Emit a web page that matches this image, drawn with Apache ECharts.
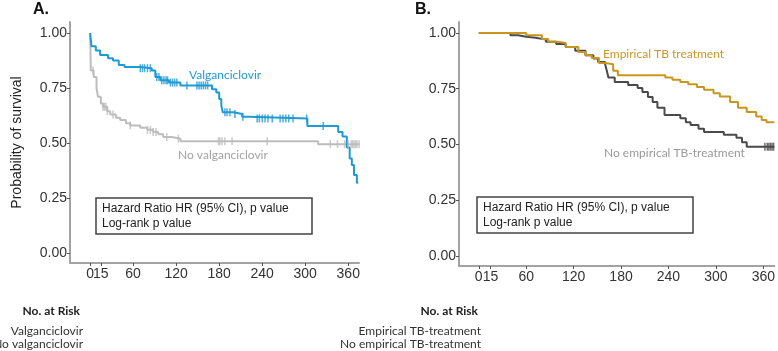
<!DOCTYPE html>
<html><head><meta charset="utf-8">
<script src="https://cdn.jsdelivr.net/npm/echarts@6/dist/echarts.min.js"></script>
<style>html,body{margin:0;padding:0;background:#fff}#c{width:778px;height:351px}</style>
</head><body><div id="c"></div>
<script>
// ---- data ----
const dayTicks = [0, 15, 60, 120, 180, 240, 300, 360];
const survTicks = [0, 0.25, 0.5, 0.75, 1];

// Panel A: Kaplan-Meier steps [day, survival]
const valgan = [[0,1],[2,0.94],[8,0.92],[14,0.90],[25,0.885],[32,0.875],[40,0.855],[48,0.845],[70,0.84],[86,0.83],[91,0.80],[98,0.785],[110,0.775],[126,0.762],[170,0.745],[176,0.73],[180,0.70],[183,0.67],[185,0.64],[200,0.632],[212,0.62],[222,0.612],[303,0.578],[346,0.55],[352,0.53],[358,0.48],[362,0.43],[365,0.40],[368,0.355],[372,0.32],[374,0.32]];
const noValgan = [[0,1],[0.5,0.936],[1,0.83],[5,0.80],[9,0.75],[11,0.71],[15,0.68],[18,0.665],[24,0.645],[28,0.63],[36,0.615],[42,0.605],[50,0.59],[56,0.58],[70,0.57],[80,0.56],[88,0.55],[95,0.54],[102,0.527],[114,0.52],[126,0.508],[318,0.495],[376,0.495]];
const valganCensor = [70,73,76,80,84,93,96,100,103,106,108,112,115,118,121,135,149,152,155,158,161,164,188,191,195,202,213,233,236,240,244,248,254,265,269,273,277,283,302,325];
const noValganCensor = [4,18,20,22,24,32,56,80,84,88,92,107,123,179,181,184,188,198,247,335,345,355,360,364,366,368,370,372,375];

// Panel B
const empTB = [[0,1],[60,0.99],[80,0.973],[88,0.96],[100,0.955],[110,0.937],[126,0.915],[135,0.90],[143,0.888],[152,0.865],[160,0.86],[170,0.83],[176,0.81],[236,0.80],[245,0.79],[255,0.78],[265,0.77],[276,0.758],[285,0.745],[297,0.73],[305,0.715],[318,0.69],[328,0.665],[339,0.646],[351,0.625],[358,0.61],[364,0.60],[374,0.60]];
const noEmpTB = [[0,1],[40,0.99],[50,0.983],[60,0.978],[72,0.97],[85,0.96],[98,0.95],[110,0.937],[122,0.92],[135,0.90],[145,0.885],[151,0.87],[160,0.857],[162,0.83],[164,0.80],[172,0.78],[189,0.767],[201,0.753],[207,0.735],[214,0.713],[220,0.69],[226,0.664],[235,0.632],[255,0.618],[262,0.60],[268,0.587],[278,0.57],[285,0.556],[310,0.543],[326,0.53],[333,0.51],[339,0.49],[374,0.49]];
const noEmpTBCensor = [362,365,367,369,371,373];

// ---- helpers ----
function survAt(curve, t){ let s = curve[0][1]; for (const p of curve){ if (p[0] <= t) s = p[1]; } return s; }
function censorPts(curve, days){ return days.map(d => [d, survAt(curve, d)]); }

const BLUE = '#1e9ad6', LGRAY = '#bdbdbd', GOLD = '#c8961e', DGRAY = '#4a4a4a';
const FONT = 'Liberation Sans, Arial, sans-serif';

function xAx(idx, min, max, ticks, lineShow){
  return { type:'value', gridIndex:idx, min:min, max:max, position:'bottom', offset:0,
    axisLine:{show:lineShow, onZero:false, lineStyle:{color:'#a3a3a3', width:2}},
    axisTick:{show:true, length:3, customValues:ticks, lineStyle:{color:'#555'}},
    axisLabel:{customValues:ticks, hideOverlap:false, color:'#333', fontSize:14, fontFamily:FONT, margin:4},
    splitLine:{show:false} };
}
function yAx(idx, min, max, name){
  return { type:'value', gridIndex:idx, min:min, max:max,
    name:name||'', nameLocation:'middle', nameRotate:90, nameGap:46,
    nameTextStyle:{fontSize:14, color:'#222', fontFamily:FONT},
    axisLine:{show:true, onZero:false, lineStyle:{color:'#a3a3a3', width:2}},
    axisTick:{show:true, length:3, customValues:survTicks, lineStyle:{color:'#555'}},
    axisLabel:{customValues:survTicks, color:'#333', fontSize:14, fontFamily:FONT, margin:3,
      formatter: v => v.toFixed(2)},
    splitLine:{show:false} };
}
function km(name, data, color, xi){
  return { name, type:'line', step:'end', data, xAxisIndex:xi, yAxisIndex:xi,
    showSymbol:false, lineStyle:{color, width:2}, itemStyle:{color}, animation:false, z:3 };
}
function cens(data, color, xi){
  return { type:'scatter', data, xAxisIndex:xi, yAxisIndex:xi, symbol:'rect', symbolSize:[1.5,8],
    itemStyle:{color}, animation:false, z:4 };
}
function gtext(x, y, s, opts){
  return { type:'text', x:x, y:y, z:20, style:Object.assign({text:s, fontSize:12, fontFamily:'Lato, sans-serif', fill:'#333', verticalAlign:'middle'}, opts||{}) };
}

const chart = echarts.init(document.getElementById('c'), null, {renderer:'canvas'});
chart.setOption({
  backgroundColor:'#fff',
  animation:false,
  grid:[
    {left:70, right:419, top:22, bottom:88},
    {left:459, right:0, top:22, bottom:85}
  ],
  xAxis:[
    xAx(0, -28, 375, dayTicks.filter(d => d !== 0), true),
    xAx(1, -25, 374, dayTicks, true),
    xAx(0, -28, 375, dayTicks.filter(d => d === 0), false)
  ],
  yAxis:[ yAx(0, -0.045, 1.05, 'Probability of survival'), yAx(1, -0.045, 1.049) ],
  series:[
    km('No valganciclovir', noValgan, LGRAY, 0),
    km('Valganciclovir', valgan, BLUE, 0),
    cens(censorPts(noValgan, noValganCensor), LGRAY, 0),
    cens(censorPts(valgan, valganCensor), BLUE, 0),
    km('No empirical TB-treatment', noEmpTB, DGRAY, 1),
    km('Empirical TB treatment', empTB, GOLD, 1),
    cens(censorPts(noEmpTB, noEmpTBCensor), DGRAY, 1)
  ],
  graphic:[
    gtext(33, 10, 'A.', {fontSize:16, fontWeight:'bold', fontFamily:FONT, fill:'#111'}),
    gtext(415, 10, 'B.', {fontSize:16, fontWeight:'bold', fontFamily:FONT, fill:'#111'}),
    {type:'rect', z:10, shape:{x:96, y:198, width:216, height:36}, style:{fill:'#fff', stroke:'#444', lineWidth:1.5}},
    gtext(102, 209, 'Hazard Ratio HR (95% CI), p value', {fontFamily:FONT, fill:'#222'}),
    gtext(102, 224, 'Log-rank p value', {fontFamily:FONT, fill:'#222'}),
    {type:'rect', z:10, shape:{x:477, y:197, width:216, height:36}, style:{fill:'#fff', stroke:'#444', lineWidth:1.5}},
    gtext(483, 208, 'Hazard Ratio HR (95% CI), p value', {fontFamily:FONT, fill:'#222'}),
    gtext(483, 223, 'Log-rank p value', {fontFamily:FONT, fill:'#222'}),
    gtext(189, 75, 'Valganciclovir', {fill:BLUE}),
    gtext(178, 155, 'No valganciclovir', {fill:'#a3a3a3'}),
    gtext(603, 54, 'Empirical TB treatment', {fill:'#c9962a'}),
    gtext(604, 153, 'No empirical TB-treatment', {fill:'#9a9a9a'}),
    gtext(80, 311, 'No. at Risk', {align:'right', fontWeight:'bold', fill:'#222'}),
    gtext(83, 331, 'Valganciclovir', {align:'right'}),
    gtext(83, 344, 'No valganciclovir', {align:'right'}),
    gtext(478, 311, 'No. at Risk', {align:'right', fontWeight:'bold', fill:'#222'}),
    gtext(481, 331, 'Empirical TB-treatment', {align:'right'}),
    gtext(481, 344, 'No empirical TB-treatment', {align:'right'})
  ]
});
</script></body></html>
